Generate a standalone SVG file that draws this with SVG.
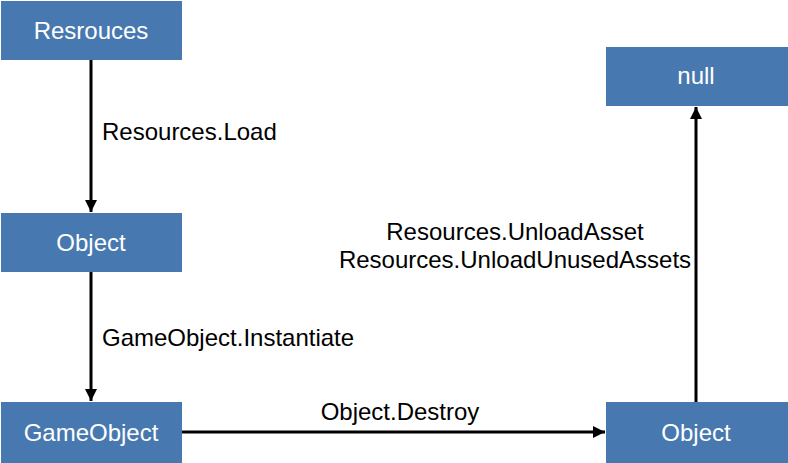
<svg xmlns="http://www.w3.org/2000/svg" width="788" height="463" viewBox="0 0 788 463">
<style>
.box{fill:#4779B0}
.bt{fill:#fff;font-family:"Liberation Sans",Arial,sans-serif;font-size:24px;text-anchor:middle}
.lbl{fill:#000;font-family:"Liberation Sans",Arial,sans-serif;font-size:24px}
.ln{stroke:#000;stroke-width:3;fill:none}
</style>
<defs>
<marker id="ah" viewBox="0 0 10 10" refX="10" refY="5" markerWidth="4" markerHeight="4" orient="auto" markerUnits="strokeWidth">
<path d="M0,0 L10,5 L0,10 z" fill="#000"/>
</marker>
</defs>
<rect width="788" height="463" fill="#fff"/>
<g id="connectors">
<line class="ln" x1="91" y1="60" x2="91" y2="212" marker-end="url(#ah)"/>
<line class="ln" x1="91" y1="272" x2="91" y2="401" marker-end="url(#ah)"/>
<line class="ln" x1="182" y1="432" x2="605" y2="432" marker-end="url(#ah)"/>
<line class="ln" x1="696" y1="402" x2="696" y2="107" marker-end="url(#ah)"/>
<text class="lbl" x="102" y="140">Resources.Load</text>
<text class="lbl" x="102" y="346">GameObject.Instantiate</text>
<text class="lbl" x="400" y="420" text-anchor="middle">Object.Destroy</text>
<text class="lbl" x="515" y="240" text-anchor="middle">Resources.UnloadAsset</text>
<text class="lbl" x="515" y="268" text-anchor="middle">Resources.UnloadUnusedAssets</text>
</g>
<g id="resources"><rect class="box" x="1" y="1" width="181" height="59"/><text class="bt" x="91" y="39">Resrouces</text></g>
<g id="object1"><rect class="box" x="1" y="213" width="181" height="59"/><text class="bt" x="91" y="251">Object</text></g>
<g id="gameobject"><rect class="box" x="1" y="402" width="181" height="61"/><text class="bt" x="91" y="441">GameObject</text></g>
<g id="null"><rect class="box" x="606" y="47" width="182" height="59"/><text class="bt" x="696" y="84">null</text></g>
<g id="object2"><rect class="box" x="606" y="402" width="182" height="61"/><text class="bt" x="696" y="441">Object</text></g>
</svg>
